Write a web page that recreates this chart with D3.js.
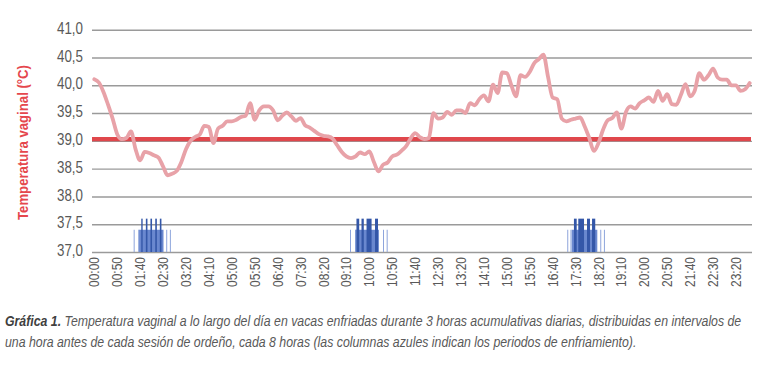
<!DOCTYPE html>
<html><head><meta charset="utf-8">
<script src="https://cdn.jsdelivr.net/npm/d3@7"></script>
<style>
html,body{margin:0;padding:0;background:#fff;}
svg{display:block;}
</style></head>
<body>
<svg id="chart" width="768" height="368"></svg>
<script>
// ---------- DATA ----------
// 10-minute categories of the day (00:00 ... 23:50)
const categorias = d3.range(144).map(i => String(Math.floor(i / 6)).padStart(2, "0") + ":" + String((i % 6) * 10).padStart(2, "0"));
const tickLabels = ["00:00","00:50","01:40","02:30","03:20","04:10","05:00","05:50","06:40","07:30","08:20","09:10","10:00","10:50","11:40","12:30","13:20","14:10","15:00","15:50","16:40","17:30","18:20","19:10","20:00","20:50","21:40","22:30","23:20"];
const yTicks = [37.0, 37.5, 38.0, 38.5, 39.0, 39.5, 40.0, 40.5, 41.0];
const temperatura = [
40.11,40.05,39.88,39.65,39.40,39.12,39.03,39.05,39.17,38.85,
38.65,38.80,38.78,38.74,38.70,38.54,38.38,38.41,38.46,38.62,
38.85,39.00,39.07,39.11,39.27,39.25,38.96,39.22,39.27,39.35,
39.35,39.38,39.43,39.45,39.68,39.38,39.55,39.62,39.62,39.55,
39.37,39.45,39.51,39.44,39.36,39.41,39.28,39.24,39.18,39.12,
39.09,39.08,39.04,38.92,38.80,38.72,38.69,38.72,38.79,38.76,
38.81,38.62,38.45,38.57,38.61,38.72,38.75,38.82,38.90,39.04,
39.14,39.07,39.03,39.05,39.50,39.40,39.42,39.52,39.47,39.55,
39.55,39.50,39.68,39.64,39.75,39.82,39.71,40.01,39.86,40.23,
40.22,40.00,39.80,40.18,40.15,40.24,40.40,40.47,40.55,40.15,
39.78,39.75,39.40,39.35,39.38,39.40,39.42,39.26,39.05,38.82,
38.96,39.20,39.37,39.41,39.51,39.22,39.52,39.62,39.58,39.68,
39.73,39.78,39.70,39.90,39.72,39.84,39.66,39.65,39.83,40.02,
39.80,39.90,40.22,40.10,40.18,40.30,40.14,40.10,40.10,40.00,
40.00,39.90,39.93,40.04];
const umbral = 39.03;
// cooling periods (minutes of the day)
const enfriamientoBloques = [[97,151],[569,621],[1041.5,1097.5]];          // level 37.4
const enfriamientoMarcas = [87,97,158,166,559,571,631,639,1033,1040,1105,1113]; // level 37.4, short pulses
const enfriamientoPicos = [[102.5,105.5],[112.5,116],[122.5,126],[133,136.5],[143,146.5],
  [572,578],[583,588],[594,605],[612.5,619],
  [1046.5,1052.5],[1056,1068.5],[1075,1081.5],[1086,1093]];              // level 37.6
const nivelBloque = 37.4, nivelPico = 37.6;
const tituloY = "Temperatura vaginal (°C)";
const pieNegrita = "Gráfica 1.";
const pieLinea1 = " Temperatura vaginal a lo largo del día en vacas enfriadas durante 3 horas acumulativas diarias, distribuidas en intervalos de";
const pieLinea2 = "una hora antes de cada sesión de ordeño, cada 8 horas (las columnas azules indican los periodos de enfriamiento).";

// ---------- CHART ----------
const FONT = "'Liberation Sans', Arial, sans-serif";
const svg = d3.select("#chart");
const X0 = 92, X1 = 752, YT = 29.7, YB = 252;
const x = d3.scaleBand().domain(categorias).range([X0, X1]).padding(0);
const xm = d3.scaleLinear().domain([-5, 1435]).range([X0, X1]);
const y = d3.scaleLinear().domain([37, 41]).range([YB, YT]);
const loc = d3.formatLocale({decimal: ",", thousands: ".", grouping: [3], currency: ["", "€"]});
const fmt = loc.format(".1f");

// grid + y labels
const gy = svg.append("g").attr("transform", `translate(${X0},0)`)
  .call(d3.axisLeft(y).tickValues(yTicks).tickSize(-(X1 - X0)).tickFormat(fmt));
gy.select(".domain").remove();
gy.selectAll(".tick line").attr("stroke", "#9a9a9a").attr("stroke-width", 1.4);
gy.selectAll(".tick text").attr("fill", "#595959").attr("font-size", 16.5).attr("font-family", FONT)
  .attr("x", 0).attr("dy", "0.22em").attr("text-anchor", "end");
{
  const w = gy.select(".tick text").node().getComputedTextLength();
  const sx = 26 / w;
  gy.selectAll(".tick text").attr("transform", `translate(-9,0) scale(${sx},1)`);
}

// x labels
const gx = svg.append("g").attr("transform", `translate(0,${YB})`)
  .call(d3.axisBottom(x).tickValues(tickLabels).tickSize(0));
gx.select(".domain").remove();
gx.selectAll(".tick text")
  .attr("fill", "#595959").attr("font-size", 14).attr("font-family", FONT)
  .attr("text-anchor", "end").attr("x", 0).attr("y", 0).attr("dy", "0.36em");
{
  const w = gx.select(".tick text").node().getComputedTextLength();
  const sx = 30 / w;
  gx.selectAll(".tick text").attr("transform", `translate(0,5) rotate(-90) scale(${sx},1)`);
}

// cooling bars
const gb = svg.append("g");
gb.selectAll("rect.bl").data(enfriamientoBloques).join("rect")
  .attr("x", d => xm(d[0])).attr("width", d => xm(d[1]) - xm(d[0]))
  .attr("y", y(nivelBloque)).attr("height", y(37) - y(nivelBloque))
  .attr("fill", "#6a88cf");
gb.selectAll("rect.mk").data(enfriamientoMarcas).join("rect")
  .attr("x", d => xm(d) - 0.5).attr("width", 1)
  .attr("y", y(nivelBloque)).attr("height", y(37) - y(nivelBloque))
  .attr("fill", "#8ea5dc");
gb.selectAll("rect.pk").data(enfriamientoPicos).join("rect")
  .attr("x", d => xm(d[0])).attr("width", d => xm(d[1]) - xm(d[0]))
  .attr("y", y(nivelPico)).attr("height", y(37) - y(nivelPico))
  .attr("fill", "#3457a8");

// threshold line
svg.append("line").attr("x1", X0).attr("x2", X1 - 1).attr("y1", y(umbral)).attr("y2", y(umbral))
  .attr("stroke", "#e0474c").attr("stroke-width", 4.2);

// temperature line
const line = d3.line().x((d, i) => x(categorias[i]) + x.bandwidth() / 2).y(d => y(d)).curve(d3.curveMonotoneX);
svg.append("path").datum(temperatura).attr("d", line)
  .attr("fill", "none").attr("stroke", "#e8a2a8").attr("stroke-width", 3.8)
  .attr("stroke-linejoin", "round").attr("stroke-linecap", "round");

// y title (condensed to ~155px)
const ty = svg.append("text").text(tituloY)
  .attr("font-family", FONT).attr("font-weight", "bold").attr("fill", "#e5474d")
  .attr("font-size", 15).attr("text-anchor", "middle").attr("x", 0).attr("y", 0);
{
  const w = ty.node().getComputedTextLength();
  ty.attr("transform", `translate(28,142.5) rotate(-90) scale(${155 / w},1)`);
}

// caption (condensed italic)
const cap = svg.append("g").attr("font-family", FONT).attr("font-style", "italic").attr("fill", "#595959");
const t1 = cap.append("text").attr("x", 0).attr("y", 0).attr("font-size", 14);
t1.append("tspan").attr("font-weight", "bold").attr("fill", "#404040").text(pieNegrita);
t1.append("tspan").text(pieLinea1);
const t2 = cap.append("text").attr("x", 0).attr("y", 0).attr("font-size", 14).text(pieLinea2);
{
  const w1 = t1.node().getComputedTextLength();
  const sx = 737 / w1;
  t1.attr("transform", `translate(5,326) scale(${sx},1)`);
  t2.attr("transform", `translate(5,347) scale(${sx},1)`);
}
</script>
</body></html>
